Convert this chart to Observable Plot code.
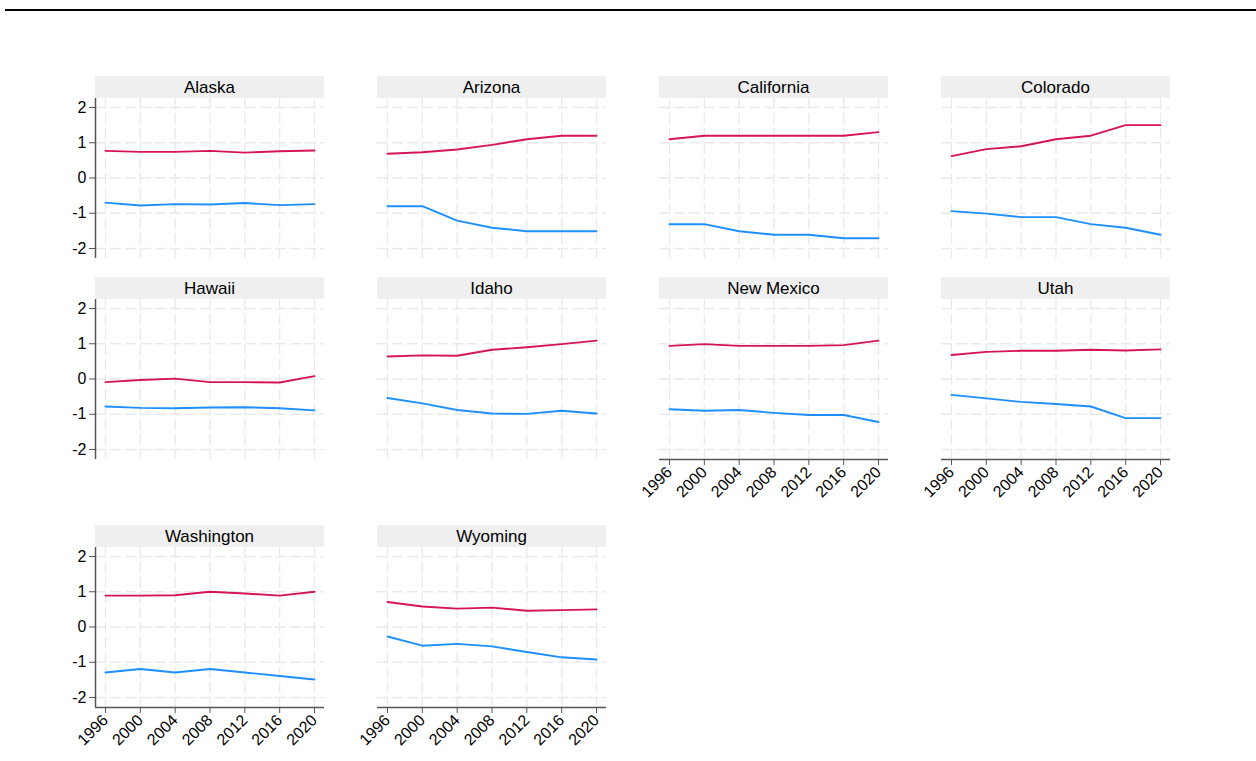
<!DOCTYPE html>
<html>
<head>
<meta charset="utf-8">
<script src="https://cdn.jsdelivr.net/npm/d3@7"></script>
<script src="https://cdn.jsdelivr.net/npm/@observablehq/plot@0.6"></script>
<style>
  html, body { margin: 0; padding: 0; background: #fff; }
  #wrap { position: relative; width: 1256px; height: 761px; overflow: hidden; font-family: "Liberation Sans", Arial, Helvetica, sans-serif; }
  .topline { position: absolute; left: 5px; top: 9px; width: 1251px; height: 2px; background: #000; }
  .head { position: absolute; height: 22px; line-height: 23px; background: #efefef; text-align: center; font-size: 17px; color: #000; }
  .panel { position: absolute; }
  .panel text { font-size: 16px; font-family: "Liberation Sans", Arial, Helvetica, sans-serif; }
</style>
</head>
<body>
<div id="wrap"><div class="topline"></div></div>
<script>
const years = [1996, 2000, 2004, 2008, 2012, 2016, 2020];
const states = ["Alaska", "Arizona", "California", "Colorado", "Hawaii", "Idaho", "New Mexico", "Utah", "Washington", "Wyoming"];
const yTicks = [-2, -1, 0, 1, 2];
const redValues = [
  [0.77, 0.74, 0.74, 0.77, 0.72, 0.76, 0.78],   // Alaska
  [0.69, 0.73, 0.81, 0.94, 1.10, 1.20, 1.20],   // Arizona
  [1.10, 1.20, 1.20, 1.20, 1.20, 1.20, 1.30],   // California
  [0.62, 0.82, 0.90, 1.10, 1.20, 1.50, 1.50],   // Colorado
  [-0.09, -0.03, 0.01, -0.09, -0.09, -0.10, 0.08], // Hawaii
  [0.64, 0.67, 0.66, 0.83, 0.90, 0.99, 1.09],   // Idaho
  [0.94, 0.99, 0.94, 0.94, 0.94, 0.96, 1.09],   // New Mexico
  [0.68, 0.77, 0.80, 0.80, 0.83, 0.81, 0.84],   // Utah
  [0.89, 0.89, 0.90, 1.00, 0.95, 0.89, 1.00],   // Washington
  [0.71, 0.58, 0.52, 0.55, 0.46, 0.48, 0.50]    // Wyoming
];
const blueValues = [
  [-0.70, -0.78, -0.74, -0.75, -0.71, -0.77, -0.74], // Alaska
  [-0.80, -0.80, -1.21, -1.41, -1.51, -1.51, -1.51], // Arizona
  [-1.31, -1.31, -1.51, -1.61, -1.61, -1.71, -1.71], // California
  [-0.94, -1.01, -1.11, -1.11, -1.31, -1.41, -1.61], // Colorado
  [-0.78, -0.82, -0.83, -0.81, -0.80, -0.83, -0.89], // Hawaii
  [-0.54, -0.69, -0.88, -0.98, -0.99, -0.90, -0.98], // Idaho
  [-0.86, -0.90, -0.88, -0.96, -1.02, -1.02, -1.22], // New Mexico
  [-0.45, -0.55, -0.65, -0.71, -0.78, -1.11, -1.11], // Utah
  [-1.29, -1.19, -1.29, -1.19, -1.29, -1.39, -1.49], // Washington
  [-0.27, -0.53, -0.48, -0.55, -0.71, -0.86, -0.92]  // Wyoming
];
const seriesColors = { red: "#d6145a", blue: "#1e8fff" };

const colLefts = [95, 377, 659, 941];
const rowTops = [76, 277, 525];
const W = 229, H = 160, HEAD = 22;
const mL = 45, mR = 10, mB = 55;
const withXAxis = new Set(["New Mexico", "Utah", "Washington", "Wyoming"]);
const wrap = document.getElementById("wrap");

states.forEach((name, i) => {
  const row = Math.floor(i / 4), col = i % 4;
  const left = colLefts[col], top = rowTops[row];
  const head = document.createElement("div");
  head.className = "head";
  head.style.left = left + "px";
  head.style.top = top + "px";
  head.style.width = W + "px";
  head.textContent = name;
  wrap.appendChild(head);

  const data = [];
  years.forEach((yr, j) => {
    data.push({ year: yr, value: redValues[i][j], series: "red" });
    data.push({ year: yr, value: blueValues[i][j], series: "blue" });
  });

  const marks = [
    Plot.gridX(years, { stroke: "#e9e9e9", strokeOpacity: 1, strokeWidth: 1.3, strokeDasharray: "11,4" }),
    Plot.gridY(yTicks, { stroke: "#e9e9e9", strokeOpacity: 1, strokeWidth: 1.3, strokeDasharray: "11,4" }),
    Plot.lineY(data.filter(d => d.series === "red"), { x: "year", y: "value", stroke: seriesColors.red, strokeWidth: 1.9 }),
    Plot.lineY(data.filter(d => d.series === "blue"), { x: "year", y: "value", stroke: seriesColors.blue, strokeWidth: 1.9 })
  ];
  if (col === 0) {
    marks.push(Plot.axisY(yTicks, { tickSize: 6, tickPadding: 3, fontSize: 16, stroke: "#555", fill: "#000", tickFormat: d => String(d) }));
    marks.push(Plot.ruleX([years[0]], { dx: -10, stroke: "#555", strokeWidth: 1.5 }));
  } else {
    marks.push(Plot.axisY([], { label: null }));
  }
  if (withXAxis.has(name)) {
    marks.push(Plot.axisX(years, { tickSize: 6, tickPadding: 4, tickRotate: -45, fontSize: 16, stroke: "#555", fill: "#000", tickFormat: d => String(d) }));
    marks.push(Plot.ruleY([yTicks[0]], { dy: 10, stroke: "#555", strokeWidth: 1.5 }));
  } else {
    marks.push(Plot.axisX([], { label: null }));
  }

  const chart = Plot.plot({
    width: mL + W + mR,
    height: H + mB,
    marginLeft: mL,
    marginRight: mR,
    marginTop: 0,
    marginBottom: mB,
    style: { background: "none", overflow: "visible", fontSize: "16px", fontFamily: "Liberation Sans, Arial, Helvetica, sans-serif" },
    x: { domain: [years[0], years[years.length - 1]], inset: 10, label: null },
    y: { domain: [-2, 2], insetTop: 9, insetBottom: 10, label: null },
    marks
  });
  chart.classList.add("panel");
  chart.style.position = "absolute";
  chart.style.left = (left - mL) + "px";
  chart.style.top = (top + HEAD) + "px";
  wrap.appendChild(chart);
});
</script>
</body>
</html>
